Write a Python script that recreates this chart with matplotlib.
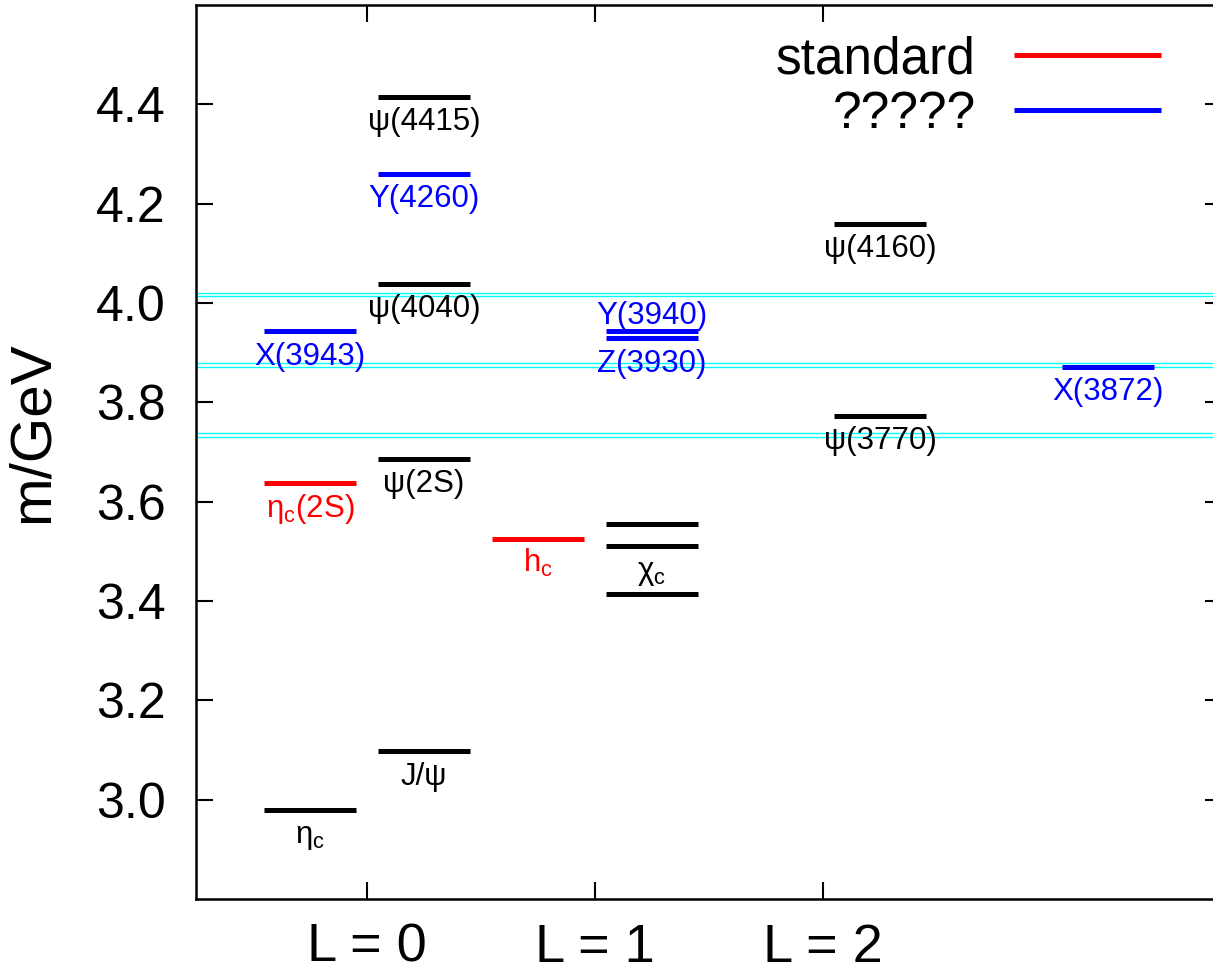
import matplotlib
matplotlib.use("Agg")
import matplotlib.pyplot as plt

plt.rcParams['font.family'] = ['Liberation Sans', 'DejaVu Sans']

# standard charmonium (black), column centre on the L axis and mass in GeV
black_cols = [-0.25, 0.25, 0.25, 0.25, 0.25, 1.25, 1.25, 1.25, 2.25, 2.25]
black_mass = [2.980, 3.097, 3.686, 4.039, 4.415, 3.415, 3.511, 3.556, 3.773, 4.159]
black_names = [r'$\mathregular{η_c}$', 'J/ψ', 'ψ(2S)', 'ψ(4040)', 'ψ(4415)',
               '', r'$\mathregular{χ_c}$', '', 'ψ(3770)', 'ψ(4160)']

# standard states (red)
red_cols = [-0.25, 0.75]
red_mass = [3.637, 3.525]
red_names = [r'$\mathregular{η_c(2S)}$', r'$\mathregular{h_c}$']

# unexplained states (blue)
blue_cols = [-0.25, 0.25, 1.25, 1.25, 3.25]
blue_mass = [3.943, 4.260, 3.943, 3.929, 3.872]
blue_names = ['X(3943)', 'Y(4260)', 'Y(3940)', 'Z(3930)', 'X(3872)']
blue_above = [False, False, True, False, False]

# open charm thresholds (DD, DD*, D*D*)
thresholds = [3.7297, 3.7392, 3.8712, 3.8791, 4.0137, 4.0203]

L_ticks = [0, 1, 2]
L_labels = ['L = 0', 'L = 1', 'L = 2']
m_ticks = [3.0, 3.2, 3.4, 3.6, 3.8, 4.0, 4.2, 4.4]

half = 0.2


def draw_levels(ax, cols, mass, names, color, label=None, above=None):
    left = [c - half for c in cols]
    right = [c + half for c in cols]
    ax.hlines(mass, left, right, colors=color, linewidth=3.6, label=label, zorder=3)
    for i, (c, m, name) in enumerate(zip(cols, mass, names)):
        if not name:
            continue
        up = above[i] if above else False
        off = 5 if up else -24
        ax.annotate(name, (c, m), xytext=(0, off), textcoords='offset points',
                    ha='center', va='baseline', color=color, fontsize=22.5)


fig = plt.figure(figsize=(12.13, 9.76), dpi=100)
ax = fig.add_axes([0.1616, 0.0789, 0.8458, 0.916])

for t in thresholds:
    ax.axhline(t, color='cyan', linewidth=1.0, zorder=1)

draw_levels(ax, black_cols, black_mass, black_names, 'black')
draw_levels(ax, red_cols, red_mass, red_names, 'red', label='standard')
draw_levels(ax, blue_cols, blue_mass, blue_names, 'blue', label='?????', above=blue_above)

ax.set_xlim(-0.75, 3.75)
ax.set_ylim(2.8, 4.6)
ax.set_xticks(L_ticks)
ax.set_xticklabels(L_labels)
ax.set_yticks(m_ticks)
ax.set_yticklabels([f'{v:.1f}' for v in m_ticks])
ax.tick_params(direction='in', top=True, right=True, length=12, width=1.5)
ax.tick_params(axis='x', labelsize=39, pad=17)
ax.tick_params(axis='y', labelsize=36, pad=22)
ax.set_ylabel('m/GeV', fontsize=42)
ax.yaxis.set_label_coords(-0.1326, 0.522)
for s in ax.spines.values():
    s.set_linewidth(1.8)

ax.legend(loc='upper right', bbox_to_anchor=(0.9405, 0.966), frameon=False,
          markerfirst=False, fontsize=37, handlelength=2.85, handletextpad=0.75,
          borderpad=0, borderaxespad=0, labelspacing=0.1)

fig.savefig('out.png', dpi=100)
